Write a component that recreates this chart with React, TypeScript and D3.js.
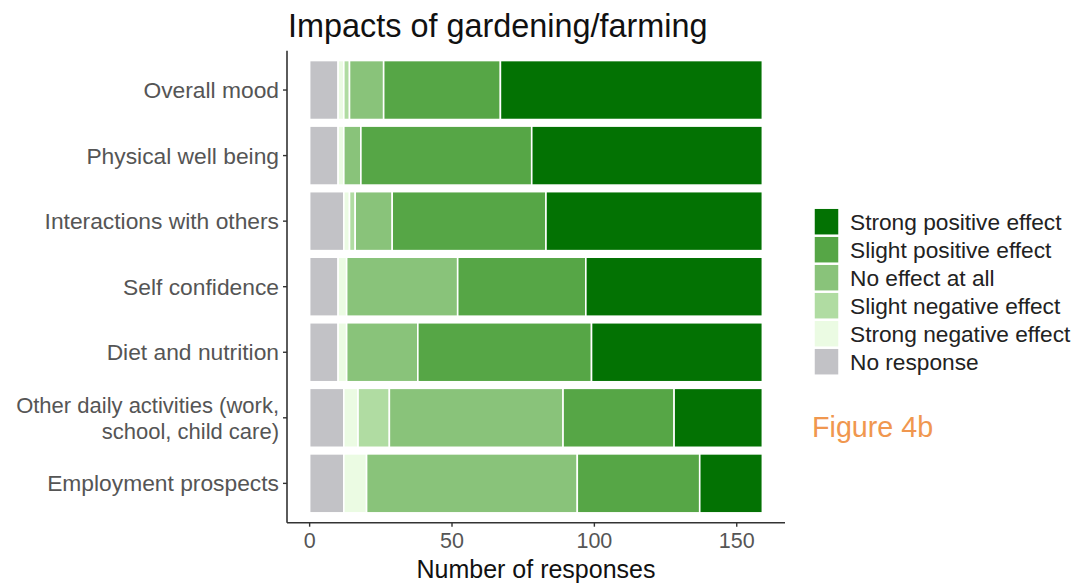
import React from "react";
import * as d3 from "d3";

const categories = [
  "Overall mood",
  "Physical well being",
  "Interactions with others",
  "Self confidence",
  "Diet and nutrition",
  "Other daily activities (work,\nschool, child care)",
  "Employment prospects",
];
const noResponse = [10, 10, 12, 10, 10, 12, 12];
const strongNegative = [2, 2, 2, 3, 3, 5, 8];
const slightNegative = [2, 0, 2, 0, 0, 11, 0];
const noEffect = [12, 6, 13, 39, 25, 61, 74];
const slightPositive = [41, 60, 54, 45, 61, 39, 43];
const strongPositive = [92, 81, 76, 62, 60, 31, 22];
const xTicks = [0, 50, 100, 150];

const seriesKeys = ["none", "sneg", "lneg", "noeff", "lpos", "spos"];
const seriesLabels: Record<string, string> = {
  spos: "Strong positive effect",
  lpos: "Slight positive effect",
  noeff: "No effect at all",
  lneg: "Slight negative effect",
  sneg: "Strong negative effect",
  none: "No response",
};
const colors: Record<string, string> = {
  spos: "#037203",
  lpos: "#56a646",
  noeff: "#89c37a",
  lneg: "#b0dca2",
  sneg: "#ebfbe3",
  none: "#c2c2c6",
};
const legendOrder = ["spos", "lpos", "noeff", "lneg", "sneg", "none"];

const FONT = "'Liberation Sans', Arial, sans-serif";

export default function App() {
  const rows = categories.map((c, i) => ({
    cat: c,
    none: noResponse[i],
    sneg: strongNegative[i],
    lneg: slightNegative[i],
    noeff: noEffect[i],
    lpos: slightPositive[i],
    spos: strongPositive[i],
  }));
  const stacked = d3.stack<any>().keys(seriesKeys)(rows);
  const maxTotal = d3.max(rows, (r: any) => seriesKeys.reduce((s, k) => s + r[k], 0)) as number;

  const left = 287;
  const right = 785;
  const top = 50.7;
  const bottom = 522.7;
  const x = d3
    .scaleLinear()
    .domain([-0.05 * maxTotal, maxTotal * 1.05])
    .range([left, right]);
  const y = d3
    .scaleBand<string>()
    .domain(categories)
    .range([top, bottom])
    .paddingInner(0.1)
    .paddingOuter(0.15);

  return (
    <svg
      width={1078}
      height={585}
      style={{ position: "absolute", left: 0, top: 0, background: "#fff" }}
      fontFamily={FONT}
    >
      <rect x={0} y={0} width={1078} height={585} fill="#fff" />
      <text x={288} y={37} fontSize={32.4} fill="#111">
        Impacts of gardening/farming
      </text>
      {stacked.map((s) => (
        <g key={s.key}>
          {s.map((d: any, i: number) =>
            d[1] - d[0] > 0 ? (
              <rect
                key={i}
                x={x(d[0])}
                y={y(d.data.cat)}
                width={x(d[1]) - x(d[0])}
                height={y.bandwidth()}
                fill={colors[s.key]}
                stroke="#fff"
                strokeWidth={1.6}
              />
            ) : null
          )}
        </g>
      ))}
      {/* axes */}
      <line x1={left} x2={left} y1={top} y2={bottom} stroke="#333" strokeWidth={1.6} />
      <line x1={left} x2={right} y1={bottom} y2={bottom} stroke="#333" strokeWidth={1.6} />
      {xTicks.map((t) => (
        <g key={t}>
          <line x1={x(t)} x2={x(t)} y1={bottom} y2={bottom + 4} stroke="#333" strokeWidth={1.4} />
          <text x={x(t)} y={548} fontSize={21.5} fill="#555" textAnchor="middle">
            {t}
          </text>
        </g>
      ))}
      <text x={(left + right) / 2} y={578} fontSize={25} fill="#111" textAnchor="middle">
        Number of responses
      </text>
      {categories.map((c) => {
        const cy = (y(c) as number) + y.bandwidth() / 2;
        const lines = c.split("\n");
        const lh = 26;
        return (
          <g key={c}>
            <line x1={left - 4} x2={left} y1={cy} y2={cy} stroke="#333" strokeWidth={1.4} />
            {lines.map((l, j) => (
              <text
                key={j}
                x={279}
                y={cy + 8 + (j - (lines.length - 1) / 2) * lh}
                fontSize={lines.length > 1 ? 22 : 22.8}
                fill="#555"
                textAnchor="end"
              >
                {l}
              </text>
            ))}
          </g>
        );
      })}
      {/* legend */}
      {legendOrder.map((k, i) => {
        const cy = 221.7 + i * 28;
        return (
          <g key={k}>
            <rect x={814} y={cy - 13.5} width={25} height={27} fill={colors[k]} stroke="#fff" strokeWidth={1.5} />
            <text x={850} y={cy + 8} fontSize={22.7} fill="#222">
              {seriesLabels[k]}
            </text>
          </g>
        );
      })}
      <text x={812} y={437} fontSize={28.7} fill="#f0974f">
        Figure 4b
      </text>
    </svg>
  );
}
